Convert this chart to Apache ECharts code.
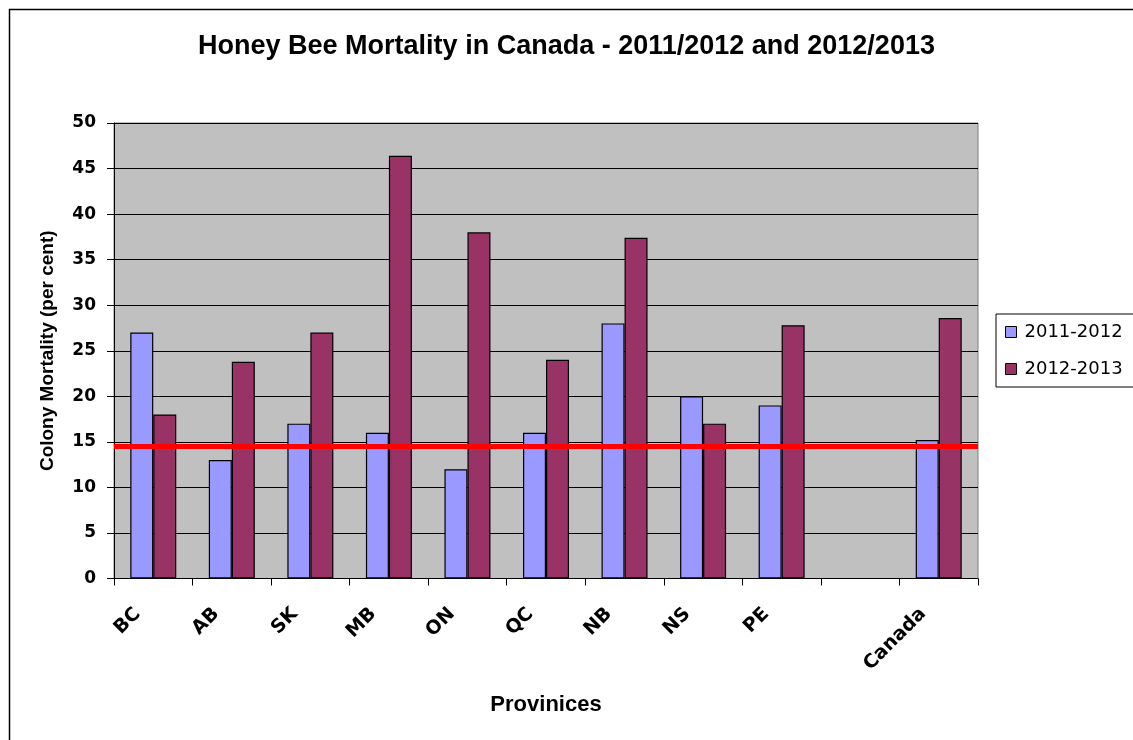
<!DOCTYPE html>
<html>
<head>
<meta charset="utf-8">
<script src="https://cdn.jsdelivr.net/npm/echarts@6/dist/echarts.min.js"></script>
<style>
html,body{margin:0;padding:0;background:#fff;}
#chart{width:1133px;height:740px;}
</style>
</head>
<body>
<div id="chart"></div>
<script>
const categories = ['BC', 'AB', 'SK', 'MB', 'ON', 'QC', 'NB', 'NS', 'PE', '', 'Canada'];
const mortality2011 = [27, 13, 17, 16, 12, 16, 28, 20, 19, null, 15.2];
const mortality2012 = [18, 23.8, 27, 46.4, 38, 24, 37.4, 17, 27.8, null, 28.6];
const seriesNames = ['2011-2012', '2012-2013'];
const referenceLevel = 14.5;
const yTicks = { min: 0, max: 50, interval: 5 };

const ARIAL = 'Arial, "Liberation Sans", sans-serif';
const WIDE = '"DejaVu Sans", Arial, sans-serif';
const chart = echarts.init(document.getElementById('chart'), null, { renderer: 'canvas' });

chart.setOption({
  animation: false,
  backgroundColor: '#ffffff',
  graphic: [{
    type: 'rect',
    shape: { x: 9.5, y: 9.5, width: 1300, height: 900 },
    style: { fill: 'none', stroke: '#000', lineWidth: 1.5 },
    z: -10
  }],
  title: {
    text: 'Honey Bee Mortality in Canada - 2011/2012 and 2012/2013',
    left: 'center',
    top: 28,
    textStyle: { fontFamily: ARIAL, fontWeight: 'bold', fontSize: 27, color: '#000' }
  },
  legend: {
    orient: 'vertical',
    left: 996,
    top: 314,
    itemWidth: 11,
    itemHeight: 11,
    itemGap: 19,
    padding: [9, 30, 9, 9],
    borderColor: '#000',
    borderWidth: 1,
    backgroundColor: '#fff',
    icon: 'rect',
    itemStyle: { borderColor: '#000', borderWidth: 1 },
    textStyle: { fontFamily: WIDE, fontSize: 18, color: '#000', padding: [0, 0, 0, 3] },
    data: seriesNames
  },
  grid: {
    left: 114, right: 155, top: 123, bottom: 161.5,
    show: true,
    backgroundColor: '#C0C0C0',
    borderColor: '#808080',
    borderWidth: 1,
    containLabel: false
  },
  xAxis: {
    type: 'category',
    data: categories,
    boundaryGap: true,
    name: 'Provinices',
    nameLocation: 'middle',
    nameGap: 115,
    nameTextStyle: { fontFamily: ARIAL, fontWeight: 'bold', fontSize: 22, color: '#000' },
    axisLine: { lineStyle: { color: '#000', width: 1 } },
    axisTick: { show: true, inside: false, length: 7, interval: 0, lineStyle: { color: '#000' } },
    axisLabel: {
      interval: 0,
      rotate: 45,
      margin: 17,
      padding: [0, 22, 0, 0],
      fontFamily: WIDE,
      fontWeight: 'bold',
      fontSize: 19,
      color: '#000'
    },
    splitLine: { show: false }
  },
  yAxis: {
    type: 'value',
    min: yTicks.min,
    max: yTicks.max,
    interval: yTicks.interval,
    name: 'Colony Mortality (per cent)',
    nameLocation: 'middle',
    nameGap: 57,
    nameTextStyle: { fontFamily: ARIAL, fontWeight: 'bold', fontSize: 19, color: '#000' },
    axisLine: { show: true, lineStyle: { color: '#000', width: 1 } },
    axisTick: { show: true, inside: false, length: 7, lineStyle: { color: '#000' } },
    axisLabel: { margin: 18, fontFamily: WIDE, fontWeight: 'bold', fontSize: 17, color: '#000' },
    splitLine: { show: true, lineStyle: { color: '#000', width: 1 } }
  },
  series: [
    {
      name: seriesNames[0],
      type: 'bar',
      data: mortality2011,
      barWidth: 23,
      barGap: '0%',
      itemStyle: { color: '#9999FF', borderColor: '#000', borderWidth: 1.2 }
    },
    {
      name: seriesNames[1],
      type: 'bar',
      data: mortality2012,
      barWidth: 23,
      barGap: '0%',
      itemStyle: { color: '#993366', borderColor: '#000', borderWidth: 1.2 },
      markLine: {
        silent: true,
        symbol: 'none',
        label: { show: false },
        lineStyle: { color: '#FF0000', width: 5, type: 'solid' },
        data: [{ yAxis: referenceLevel }],
        z: 10
      }
    }
  ]
});
</script>
</body>
</html>
